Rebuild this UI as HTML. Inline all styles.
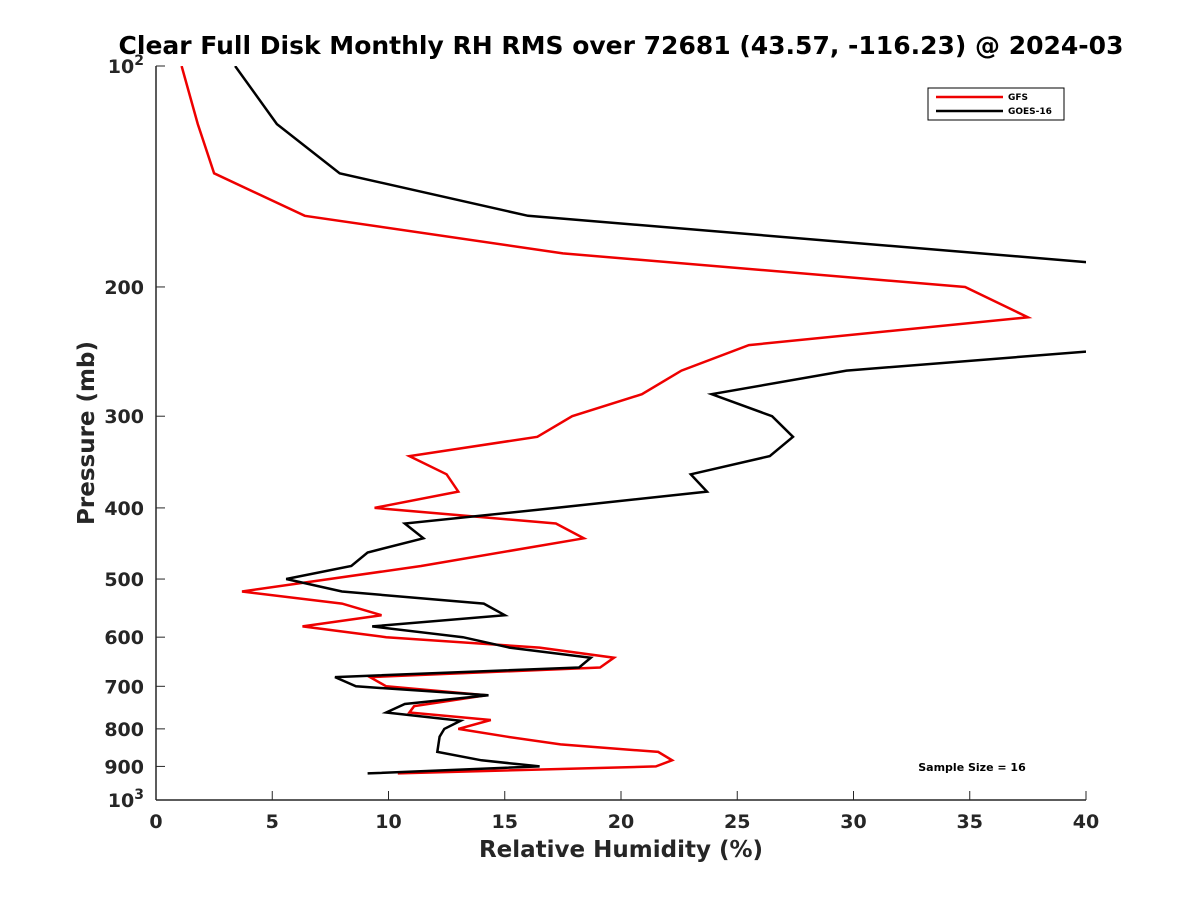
<!DOCTYPE html>
<html><head><meta charset="utf-8"><style>
body{margin:0;background:#fff;}
svg{display:block;font-family:"DejaVu Sans","Liberation Sans",sans-serif;}
</style></head><body>
<svg id="chart" width="1200" height="900">
<rect width="1200" height="900" fill="#fff"/>
<defs><clipPath id="plotclip"><rect x="156" y="66" width="930" height="734"/></clipPath></defs>
<text x="621" y="54" text-anchor="middle" font-size="25" font-weight="bold">Clear Full Disk Monthly RH RMS over 72681 (43.57, -116.23) @ 2024-03</text>
<g id="axes"></g>
<g id="series" clip-path="url(#plotclip)"></g>
<g>
<rect x="928" y="88" width="136" height="32" fill="#fff" stroke="#000" stroke-width="1"/>
<line x1="936" y1="97" x2="1003" y2="97" stroke="#e00" stroke-width="2.5"/>
<text x="1008" y="100" font-size="9" font-weight="bold">GFS</text>
<line x1="936" y1="111" x2="1003" y2="111" stroke="#000" stroke-width="2.5"/>
<text x="1008" y="114" font-size="9" font-weight="bold">GOES-16</text>
</g>
<text x="972" y="771" text-anchor="middle" font-size="11" font-weight="bold">Sample Size = 16</text>
<text x="621" y="857" text-anchor="middle" font-size="23" font-weight="bold" fill="#262626">Relative Humidity (%)</text>
<text transform="translate(94,433) rotate(-90)" text-anchor="middle" font-size="23" font-weight="bold" fill="#262626">Pressure (mb)</text>
</svg>
<script>
const xTicks=[0,5,10,15,20,25,30,35,40];
const yTicks=[100,200,300,400,500,600,700,800,900,1000];
const yTickLabels=["10^2","200","300","400","500","600","700","800","900","10^3"];
const gfsPressure=[100,120,140,160,180,200,220,240,260,280,300,320,340,360,380,400,420,440,480,520,540,560,580,600,620,640,660,680,700,720,745,760,778,800,820,840,860,883,900,920];
const gfsValues=[1.1,1.8,2.5,6.4,17.5,34.8,37.5,25.5,22.6,20.9,17.9,16.4,10.9,12.5,13.0,9.4,17.2,18.4,11.4,3.7,8.0,9.7,6.3,9.9,16.5,19.7,19.1,9.2,9.9,14.2,11.1,10.9,14.4,13.0,15.1,17.4,21.6,22.2,21.5,10.4];
const goesPressure=[100,120,140,160,185,200,220,245,260,280,300,320,340,360,380,400,420,440,460,480,500,520,540,560,580,600,620,640,660,680,700,720,740,760,780,800,820,860,883,900,920];
const goesValues=[3.4,5.2,7.9,16.0,40,55,50,40,29.7,23.9,26.5,27.4,26.4,23.0,23.7,17.2,10.7,11.5,9.1,8.4,5.6,8.0,14.1,15.0,9.3,13.2,15.2,18.7,18.2,7.7,8.6,14.3,10.7,9.9,13.1,12.4,12.2,12.1,14.0,16.5,9.1];
const X0=156,X1=1086,Y0=66,Y1=800;
const xs=v=>X0+(v/40)*(X1-X0);
const ys=p=>Y0+(Math.log10(p)-2)*(Y1-Y0);
const NS="http://www.w3.org/2000/svg";
const ax=document.getElementById('axes');
function mk(tag,attrs,parent){const e=document.createElementNS(NS,tag);for(const k in attrs)e.setAttribute(k,attrs[k]);parent.appendChild(e);return e;}
let l=mk('line',{x1:X0,y1:Y0,x2:X0,y2:Y1,stroke:'#262626','stroke-width':1.5},ax);


l=mk('line',{x1:X0,y1:Y1,x2:X1,y2:Y1,stroke:'#262626','stroke-width':1.5},ax);


xTicks.forEach(v=>{
 const t=mk('line',{x1:xs(v),y1:Y1,x2:xs(v),y2:Y1-9,stroke:'#262626','stroke-width':1},ax);
 
 
 const tx=mk('text',{x:xs(v),y:Y1+28,'text-anchor':'middle','font-size':19,'font-weight':'bold',fill:'#262626'},ax);
 tx.textContent=v;
 
 
});
yTicks.forEach((p,i)=>{
 const t=mk('line',{x1:X0,y1:ys(p),x2:X0+9,y2:ys(p),stroke:'#262626','stroke-width':1},ax);
 
 
 const lab=yTickLabels[i];
 const tx=mk('text',{x:X0-12,y:ys(p)+7,'text-anchor':'end','font-size':19,'font-weight':'bold',fill:'#262626'},ax);
 if(lab.indexOf('^')>=0){const [b,e]=lab.split('^');tx.textContent=b;const s=mk('tspan',{dy:-8,'font-size':14},tx);s.textContent=e;}
 else tx.textContent=lab;
 
 
});
const sg=document.getElementById('series');
function draw(pr,vals,color,name){
 const pts=pr.map((p,i)=>xs(vals[i]).toFixed(1)+','+ys(p).toFixed(1)).join(' ');
 const pl=mk('polyline',{points:pts,fill:'none',stroke:color,'stroke-width':2.5,'stroke-linejoin':'miter'},sg);
 
 
}
draw(gfsPressure,gfsValues,'#e00','gfs-line');
draw(goesPressure,goesValues,'#000','goes16-line');
</script>
</body></html>
